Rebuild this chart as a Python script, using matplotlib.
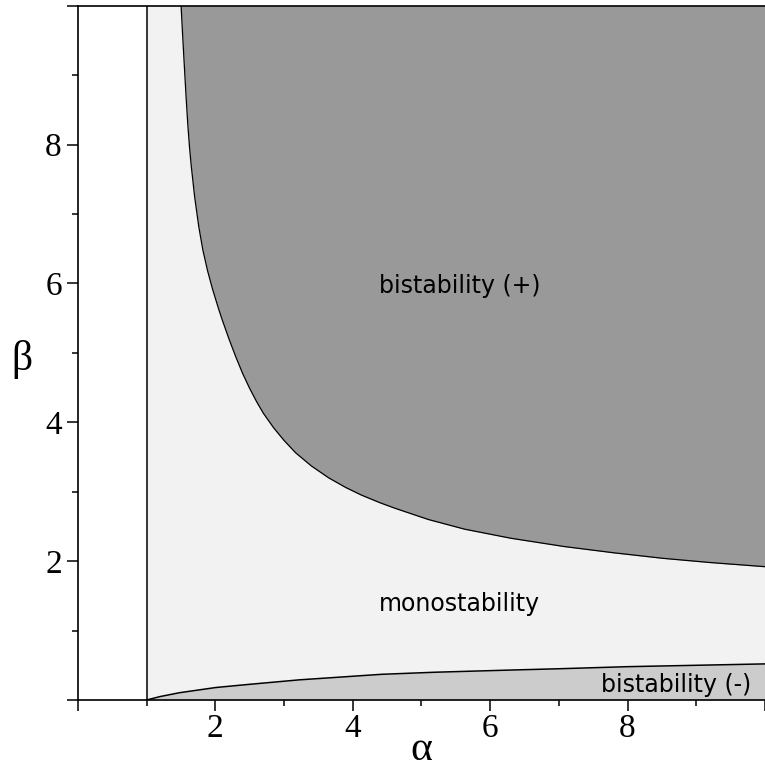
import matplotlib
matplotlib.use("Agg")
import matplotlib.pyplot as plt
import numpy as np

# upper boundary: bistability (+) above it
alpha_up = [1.503, 1.527, 1.551, 1.575, 1.60, 1.625, 1.65, 1.70, 1.76, 1.82,
            1.889, 1.96, 2.05, 2.10, 2.20, 2.30, 2.40, 2.50, 2.60, 2.70,
            2.85, 3.0, 3.17, 3.4, 3.65, 3.9, 4.13, 4.4, 4.62, 5.1,
            5.63, 6.3, 7.08, 7.8, 8.52, 9.2, 10.0]
beta_up = [10.0, 9.55, 9.12, 8.70, 8.30, 7.97, 7.70, 7.25, 6.82, 6.48,
           6.18, 5.92, 5.63, 5.48, 5.20, 4.94, 4.70, 4.49, 4.30, 4.13,
           3.92, 3.74, 3.56, 3.37, 3.20, 3.06, 2.95, 2.84, 2.76, 2.60,
           2.46, 2.33, 2.21, 2.12, 2.04, 1.98, 1.92]

# lower boundary: bistability (-) below it
alpha_lo = [1.0, 1.2, 1.48, 2.01, 2.49, 3.22, 4.42, 5.2, 6.25, 7.0, 8.0, 9.0, 10.0]
beta_lo = [0.0, 0.05, 0.105, 0.18, 0.225, 0.29, 0.37, 0.40, 0.43, 0.45, 0.48, 0.50, 0.52]

alpha_min = 1.0
x_major = [0, 2, 4, 6, 8, 10]
x_labels = ['', '2', '4', '6', '8', '']
y_major = [0, 2, 4, 6, 8, 10]
y_labels = ['', '2', '4', '6', '8', '']
minor = [1, 3, 5, 7, 9]

regions = ['bistability (+)', 'monostability', 'bistability (-)']
region_pos = [(5.56, 5.96), (5.56, 1.38), (8.70, 0.22)]

serif = 'Liberation Serif'

fig = plt.figure(figsize=(7.65, 7.68), dpi=100)
ax = fig.add_axes([77.8 / 765, 1 - 700 / 768, 1 - 77.8 / 765, (700 - 5.7) / 768])
ax.set_xlim(0, 9.94)
ax.set_ylim(0, 10)

# monostability background
ax.fill_between([alpha_min, 10], 0, 10, color='#f2f2f2', lw=0, zorder=1)
ax.fill_between(alpha_up, beta_up, 10, color='#999999', lw=0, zorder=2)
ax.fill_between(alpha_lo, 0, beta_lo, color='#cccccc', lw=0, zorder=2)
ax.plot(alpha_up, beta_up, color='black', lw=0.9, zorder=3)
ax.plot(alpha_lo, beta_lo, color='black', lw=1.1, zorder=3)
ax.plot([alpha_min, alpha_min], [0, 10], color='black', lw=1.1, zorder=3)

for txt, (px, py) in zip(regions, region_pos):
    ax.text(px, py, txt, ha='center', va='center', fontsize=17,
            family='DejaVu Sans', zorder=4)

ax.spines['right'].set_visible(False)
for s in ['left', 'bottom', 'top']:
    ax.spines[s].set_linewidth(1.2)
    ax.spines[s].set_zorder(5)

ax.set_xticks(x_major)
ax.set_xticklabels(x_labels)
ax.set_yticks(y_major)
ax.set_yticklabels(y_labels)
ax.set_xticks(minor, minor=True)
ax.set_yticks(minor, minor=True)
ax.tick_params(which='major', length=8, width=1.1, direction='out', labelsize=24, pad=1.5)
ax.tick_params(axis='y', which='major', pad=3.5)
ax.tick_params(which='minor', length=4, width=1.1, direction='out')
for lab in ax.get_xticklabels() + ax.get_yticklabels():
    lab.set_family(serif)
for t in ax.xaxis.get_major_ticks() + ax.xaxis.get_minor_ticks() + \
        ax.yaxis.get_major_ticks() + ax.yaxis.get_minor_ticks():
    t.tick1line.set_clip_on(False)

ax.set_xlabel('α', fontsize=30, family=serif, va='center')
ax.xaxis.set_label_coords(0.5, -0.072)
ax.set_ylabel('β', fontsize=30, family=serif, rotation=0, va='center', ha='center')
ax.yaxis.set_label_coords(-0.081, 0.49)

fig.savefig('out.png', dpi=100)
